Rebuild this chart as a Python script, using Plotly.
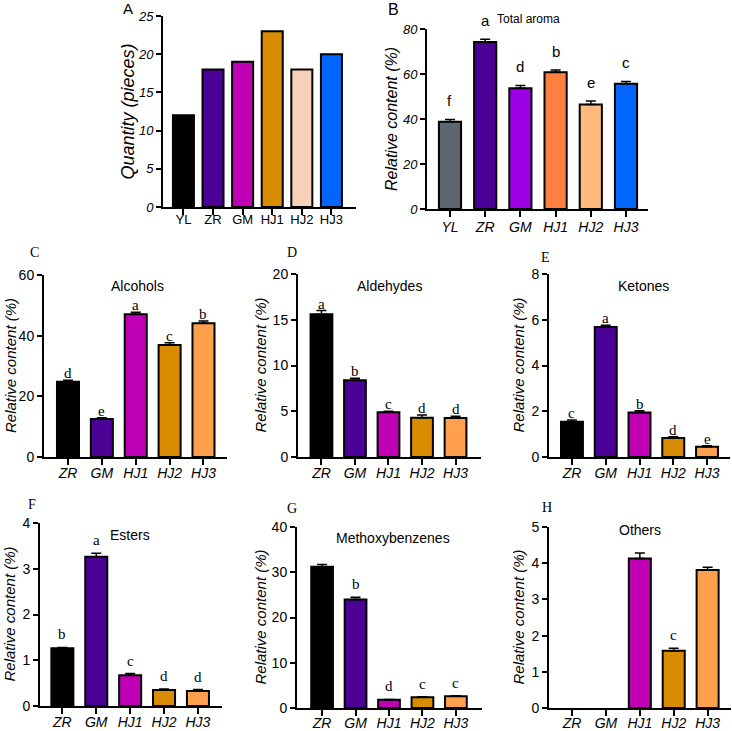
import plotly.graph_objects as go

W, H = 732, 731
SANS = "Liberation Sans, Arial, sans-serif"
SERIF = "Liberation Serif, Times New Roman, serif"

# ---------------- data ----------------
cats_A = ["YL", "ZR", "GM", "HJ1", "HJ2", "HJ3"]
vals_A = [12, 18, 19, 23, 18, 20]

cats_B = ["YL", "ZR", "GM", "HJ1", "HJ2", "HJ3"]
vals_B = [38.8, 74.2, 53.7, 60.8, 46.5, 55.7]
err_B = [1.0, 1.3, 1.2, 1.0, 1.5, 1.0]
sig_B = ["f", "a", "d", "b", "e", "c"]

cats = ["ZR", "GM", "HJ1", "HJ2", "HJ3"]

vals_C = [24.8, 12.5, 47.1, 36.9, 44.1]
err_C = [0.5, 0.4, 0.6, 0.8, 0.7]
sig_C = ["d", "e", "a", "c", "b"]

vals_D = [15.6, 8.4, 4.9, 4.3, 4.25]
err_D = [0.4, 0.2, 0.1, 0.3, 0.2]
sig_D = ["a", "b", "c", "d", "d"]

vals_E = [1.54, 5.68, 1.94, 0.83, 0.45]
err_E = [0.08, 0.08, 0.08, 0.05, 0.04]
sig_E = ["c", "a", "b", "d", "e"]

vals_F = [1.26, 3.26, 0.67, 0.35, 0.33]
err_F = [0.02, 0.08, 0.04, 0.02, 0.03]
sig_F = ["b", "a", "c", "d", "d"]

vals_G = [31.2, 24.0, 1.8, 2.4, 2.6]
err_G = [0.5, 0.5, 0.1, 0.1, 0.1]
sig_G = ["", "b", "d", "c", "c"]

vals_H = [None, None, 4.13, 1.58, 3.81]
err_H = [0, 0, 0.15, 0.07, 0.08]
sig_H = ["", "", "", "c", ""]

colors_A = ["#000000", "#4b0096", "#c000b4", "#d98c00", "#f7d2b8", "#0066ff"]
colors_B = ["#5d6670", "#4b0096", "#9b00e6", "#ff8040", "#ffb97c", "#0066ff"]
colors_5 = ["#000000", "#4b0096", "#c000b4", "#d98c00", "#ffa04f"]

# ---------------- panel geometry (pixels) ----------------
panels = [
    dict(cats=cats_A, vals=vals_A, err=None, sig=None, colors=colors_A,
         px=(163, 356), py=(207, 16), xr=[-0.69, 5.83], yr=[0, 25], dt=5, bw=0.71,
         ytitle="Quantity (pieces)", ytx=128, ytsize=18, tickit=True, xtickit=False,
         tfs=13, xtfs=13, xso=-7, title=None, lab=("A", 128, 8, SANS, 15), sigfont=SANS, sigshift=0),
    dict(cats=cats_B, vals=vals_B, err=err_B, sig=sig_B, colors=colors_B,
         px=(427, 648), py=(209, 29), xr=[-0.653, 5.625], yr=[0, 80], dt=20, bw=0.63,
         ytitle="Relative content (%)", ytx=391, ytsize=16, tickit=True, xtickit=True,
         tfs=13, xtfs=14, xso=-2, title=("Total aroma", 528, 19, 12), lab=("B", 393, 10, SANS, 16),
         sigfont=SANS, sigshift=8),
    dict(cats=cats, vals=vals_C, err=err_C, sig=sig_C, colors=colors_5,
         px=(44, 227), py=(457, 275), xr=[-0.708, 4.694], yr=[0, 60], dt=20, bw=0.65,
         ytitle="Relative content (%)", ytx=10, ytsize=15, tickit=False, xtickit=True,
         tfs=14, xtfs=14, xso=-4, title=("Alcohols", 137, 286, 14), lab=("C", 34, 252, SERIF, 14),
         sigfont=SERIF, sigshift=-3),
    dict(cats=cats, vals=vals_D, err=err_D, sig=sig_D, colors=colors_5,
         px=(298, 481), py=(457, 274), xr=[-0.70, 4.76], yr=[0, 20], dt=5, bw=0.65,
         ytitle="Relative content (%)", ytx=260, ytsize=15, tickit=False, xtickit=True,
         tfs=14, xtfs=14, xso=-4, title=("Aldehydes", 389, 286, 14), lab=("D", 292, 252, SERIF, 14),
         sigfont=SERIF, sigshift=-3),
    dict(cats=cats, vals=vals_E, err=err_E, sig=sig_E, colors=colors_5,
         px=(549, 730), py=(457, 274), xr=[-0.68, 4.68], yr=[0, 8], dt=2, bw=0.65,
         ytitle="Relative content (%)", ytx=518, ytsize=15, tickit=False, xtickit=True,
         tfs=14, xtfs=14, xso=-4, title=("Ketones", 643, 286, 14), lab=("E", 545, 257, SERIF, 14),
         sigfont=SERIF, sigshift=-3),
    dict(cats=cats, vals=vals_F, err=err_F, sig=sig_F, colors=colors_5,
         px=(40, 222), py=(706, 523), xr=[-0.66, 4.71], yr=[0, 4], dt=1, bw=0.65,
         ytitle="Relative content (%)", ytx=9, ytsize=15, tickit=False, xtickit=True,
         tfs=14, xtfs=14, xso=-4, title=("Esters", 130, 535, 14), lab=("F", 32, 504, SERIF, 14),
         sigfont=SERIF, sigshift=3),
    dict(cats=cats, vals=vals_G, err=err_G, sig=sig_G, colors=colors_5,
         px=(297, 482), py=(708, 527), xr=[-0.75, 4.78], yr=[0, 40], dt=10, bw=0.65,
         ytitle="Relative content (%)", ytx=260, ytsize=15, tickit=False, xtickit=True,
         tfs=14, xtfs=14, xso=-5, title=("Methoxybenzenes", 393, 538, 14), lab=("G", 292, 508, SERIF, 14),
         sigfont=SERIF, sigshift=3),
    dict(cats=cats, vals=vals_H, err=err_H, sig=sig_H, colors=colors_5,
         px=(549, 731), py=(708, 527), xr=[-0.68, 4.69], yr=[0, 5], dt=1, bw=0.65,
         ytitle="Relative content (%)", ytx=518, ytsize=15, tickit=False, xtickit=True,
         tfs=14, xtfs=14, xso=-5, title=("Others", 640, 530, 14), lab=("H", 547, 507, SERIF, 14),
         sigfont=SERIF, sigshift=3),
]

fig = go.Figure()
annotations = []
layout = {}


def px2x(v):
    return v / W


def py2y(v):
    return 1 - v / H


for i, p in enumerate(panels):
    n = i + 1
    xa = "x" if n == 1 else f"x{n}"
    ya = "y" if n == 1 else f"y{n}"
    xk = "xaxis" if n == 1 else f"xaxis{n}"
    yk = "yaxis" if n == 1 else f"yaxis{n}"
    idx = list(range(len(p["cats"])))

    bar = dict(
        x=idx, y=p["vals"], width=p["bw"],
        marker=dict(color=p["colors"], line=dict(color="black", width=2)),
        xaxis=xa, yaxis=ya, showlegend=False, hoverinfo="y",
    )
    if p["err"] is not None:
        bar["error_y"] = dict(type="data", array=p["err"], arrayminus=[0] * len(idx),
                              symmetric=False, color="black", thickness=1.5, width=5)
    fig.add_trace(go.Bar(**bar))

    layout[xk] = dict(
        domain=[px2x(p["px"][0]), px2x(p["px"][1])], anchor=ya,
        range=p["xr"], tickvals=idx, ticktext=p["cats"], automargin=False,
        showline=True, linecolor="black", linewidth=2,
        ticks="outside", ticklen=6, tickwidth=2, tickcolor="black",
        ticklabelstandoff=p["xso"],
        showgrid=False, zeroline=False,
        tickfont=dict(family=SANS, size=p["xtfs"], color="black",
                      style="italic" if p["xtickit"] else "normal"),
    )
    layout[yk] = dict(
        domain=[py2y(p["py"][0]), py2y(p["py"][1])], anchor=xa,
        range=p["yr"], dtick=p["dt"], tick0=0, automargin=False,
        showline=True, linecolor="black", linewidth=2,
        ticks="outside", ticklen=5, tickwidth=2, tickcolor="black",
        showgrid=False, zeroline=False,
        tickfont=dict(family=SANS, size=p["tfs"], color="black",
                      style="italic" if p["tickit"] else "normal"),
    )

    ymid = (p["py"][0] + p["py"][1]) / 2
    annotations.append(dict(
        xref="paper", yref="paper", x=px2x(p["ytx"]), y=py2y(ymid),
        text=p["ytitle"], textangle=-90, showarrow=False,
        xanchor="center", yanchor="middle",
        font=dict(family=SANS, size=p["ytsize"], color="black", style="italic"),
    ))
    if p["title"]:
        t, tx, ty, ts = p["title"]
        annotations.append(dict(
            xref="paper", yref="paper", x=px2x(tx), y=py2y(ty), text=t,
            showarrow=False, xanchor="center", yanchor="middle",
            font=dict(family=SANS, size=ts, color="black"),
        ))
    lt, lx, ly, lf, ls = p["lab"]
    annotations.append(dict(
        xref="paper", yref="paper", x=px2x(lx), y=py2y(ly), text=lt,
        showarrow=False, xanchor="center", yanchor="middle",
        font=dict(family=lf, size=ls, color="black"),
    ))
    if p["sig"]:
        for j, s in enumerate(p["sig"]):
            if not s or p["vals"][j] is None:
                continue
            annotations.append(dict(
                xref=xa, yref=ya, x=j, y=p["vals"][j] + p["err"][j], text=s,
                showarrow=False, xanchor="center", yanchor="bottom",
                yshift=p["sigshift"],
                font=dict(family=p["sigfont"], size=15, color="black"),
            ))

fig.update_layout(
    width=W, height=H, margin=dict(l=0, r=0, t=0, b=0, pad=0, autoexpand=False),
    paper_bgcolor="white", plot_bgcolor="white", hovermode=False,
    annotations=annotations, **layout,
)

fig.write_html(
    "out.html",
    config={"displayModeBar": False, "staticPlot": True},
    post_script="document.body.style.margin='0';document.body.style.padding='0';"
                "document.body.style.overflow='hidden';",
)
